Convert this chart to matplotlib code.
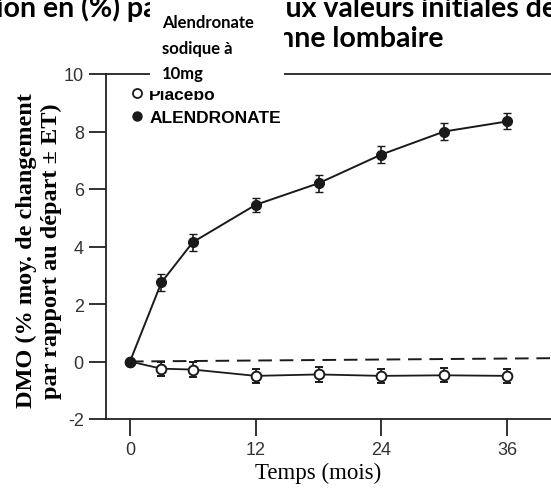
import matplotlib
matplotlib.use("Agg")
import matplotlib.pyplot as plt
from matplotlib.lines import Line2D
from matplotlib.patches import Rectangle

plt.rcParams['axes.unicode_minus'] = False

# données
mois = [0, 3, 6, 12, 18, 24, 30, 36]
alendronate = [0, 2.75, 4.15, 5.45, 6.2, 7.2, 8.0, 8.35]
alendronate_et = [0, 0.3, 0.3, 0.25, 0.3, 0.3, 0.28, 0.28]
placebo = [0, -0.25, -0.28, -0.5, -0.45, -0.5, -0.48, -0.5]
placebo_et = [0, 0.25, 0.25, 0.25, 0.25, 0.25, 0.25, 0.25]
ref_x = [0, 42]
ref_y = [0, 0.12]
xticks = [0, 12, 24, 36]
yticks = [-2, 0, 2, 4, 6, 8, 10]

W, H = 551, 489
fig = plt.figure(figsize=(W / 100, H / 100), dpi=100)

# axes placed in pixels, right side runs off the picture
left_px, right_px, top_px, bottom_px = 106, 570, 75, 420
ax = fig.add_axes([left_px / W, 1 - bottom_px / H,
                   (right_px - left_px) / W, (bottom_px - top_px) / H])
ax.set_xlim(-2.29, 42)
ax.set_ylim(-2, 10)

col = '#1a1a1a'
ax.plot(ref_x, ref_y, color=col, lw=1.4, dashes=(7, 4), zorder=1)
ax.errorbar(mois, placebo, yerr=placebo_et, color=col, lw=1.3, marker='o',
            ms=7, mfc='white', mec=col, mew=1.4, capsize=3, elinewidth=1.2, zorder=3)
ax.errorbar(mois, alendronate, yerr=alendronate_et, color=col, lw=1.4, marker='o',
            ms=7, mfc=col, mec=col, capsize=3, elinewidth=1.2, zorder=4)

for s in ['left', 'bottom', 'top', 'right']:
    ax.spines[s].set_color('#222222')
    ax.spines[s].set_linewidth(1.3)

ax.set_xticks(xticks)
ax.set_yticks(yticks)
ax.tick_params(direction='out', length=12, width=1.3, colors='#222222',
               labelsize=13, pad=4)
for lab in ax.get_xticklabels() + ax.get_yticklabels():
    lab.set_family('Liberation Sans')
    lab.set_color('#333333')

ax.set_xlabel('Temps (mois)', family='Liberation Serif', fontsize=16.5)
ax.xaxis.set_label_coords(0.457, -0.124)
ax.set_ylabel('DMO (% moy. de changement\npar rapport au départ ± ET)',
              family='Liberation Serif', fontweight='bold', fontsize=17.5,
              linespacing=1.25)
ax.yaxis.set_label_coords(-0.095, 0.49)

handles = [Line2D([], [], ls='none', marker='o', ms=6.5, mfc='white', mec=col, mew=1.3),
           Line2D([], [], ls='none', marker='o', ms=6.5, mfc=col, mec=col)]
leg = ax.legend(handles, ['Placebo', 'ALENDRONATE'], loc='upper left',
                bbox_to_anchor=(0.056, 0.963), frameon=False, borderpad=0,
                borderaxespad=0, handlelength=0.55, handletextpad=0.45,
                labelspacing=0.45, prop={'family': 'Liberation Sans',
                                         'weight': 'bold', 'size': 12.5})

# titre coupé et encadré blanc collé par-dessus
tfont = dict(family='Lato', fontweight='bold', fontsize=20.5, zorder=3)
fig.text(168 / W, 1 - 17 / H, 'Variation en (%) par', ha='right', va='baseline', **tfont)
fig.text(271 / W, 1 - 17 / H, 'aux valeurs initiales de la', ha='left', va='baseline', **tfont)
fig.text(443 / W, 1 - 47 / H, 'la colonne lombaire', ha='right', va='baseline', **tfont)

fig.patches.append(Rectangle((150 / W, 1 - 92 / H), 134 / W, 92 / H,
                             transform=fig.transFigure, fc='white', ec='none', zorder=5))
fig.text(162 / W, 1 - 15 / H, 'Alendronate\nsodique à\n10mg', ha='left', va='top',
         family='Lato', fontweight='bold', fontsize=12, linespacing=1.75, zorder=6)

fig.savefig('out.png', dpi=100)
